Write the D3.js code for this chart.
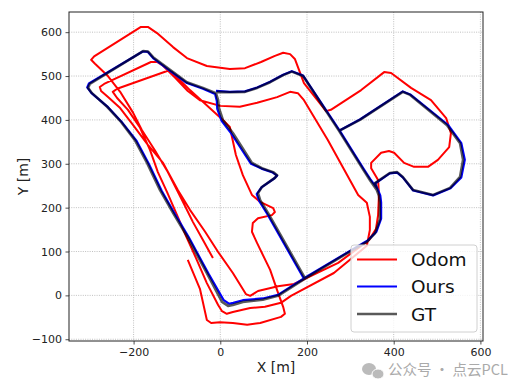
<!DOCTYPE html>
<html><head><meta charset="utf-8">
<script src="https://cdn.jsdelivr.net/npm/d3@7"></script>
<style>
html,body{margin:0;padding:0;background:#fff;}
svg{display:block;font-family:"DejaVu Sans",sans-serif;}
</style></head>
<body><svg id="c" width="522" height="392"></svg>
<script>
const xTicks=[-200,0,200,400,600];
const yTicks=[-100,0,100,200,300,400,500,600];
const seriesNames=["Odom","Ours","GT"];
const seriesColors=["#ff0000","#0000ff","#000000"];

// GT trajectory (m); null separates pieces
const gtX=[195,110,92,87,96,126,131,122,96,73,50,29,6,-3,-5,-10,-40,-77,-116,-155,-167,-178,-301,-305,-296,-261,-231,-197,-169,-139,-109,-77,-31,4,18,29,52,98,133,198,301,338,357,368,368,366,361,345,330,274,191,165,145,115,85,57,22,-8,
 null,274,322,421,438,523,553,560,553,530,491,445,421,408,391,357,366];
const gtY=[40,188,217,233,247,268,274,281,290,302,338,370,400,427,445,461,473,486,514,543,556,557,482,473,461,430,398,354,302,240,188,135,51,-15,-24,-22,-15,-10,-1,40,101,122,142,173,211,227,240,263,286,375,500,510,502,486,473,464,463,464,
 null,375,400,464,457,388,347,309,270,245,229,240,270,281,279,256,227];
// Ours (proposed) trajectory
const oursX=[193,108,90,84,95,125,131,121,95,71,47,26,3,-7,-8,-12,-40,-77,-116,-155,-167,-179,-303,-307,-297,-259,-228,-193,-165,-135,-105,-73,-27,8,20,30,52,98,133,198,302,340,360,371,371,369,363,346,331,275,191,165,145,115,85,57,22,-10,
 null,275,322,421,438,525,556,564,556,531,491,445,421,408,391,357,369];
const oursY=[38,186,215,231,246,267,273,280,289,300,336,368,398,425,443,459,471,484,512,541,555,556,483,474,461,429,396,352,300,238,186,133,49,-11,-19,-17,-11,-7,1,42,103,125,145,175,212,228,242,265,288,376,501,511,503,487,474,465,464,466,
 null,376,401,465,458,389,347,309,269,244,228,239,269,280,278,255,228];
// Odometry trajectory
const odomX=[-17,-40,-63,-88,-121,-151,-181,-201,-231,-261,-289,-298,-291,
 -183,-167,-146,-109,-77,-31,22,57,94,126,145,161,172,193,244,255,325,378,394,440,486,521,532,528,502,479,447,424,401,389,371,348,348,364,366,364,359,343,272,170,133,87,69,59,
 29,-5,-35,-70,-98,-132,-167,-201,-231,-259,-275,-278,-268,
 -160,-146,-134,-104,-75,-47,0,45,85,131,161,179,193,248,318,338,345,345,338,262,163,140,103,69,29,15,4,
 -5,-31,-56,-79,-102,-123,-144,-162,-185,-213,-238,-248,-238,
 -121,-111,-70,6,22,27,36,52,73,92,122,126,119,87,75,73,85,115,131,145,149,140,92,62,29,-1,-21,-31,-47,-75];
const odomY=[85,126,167,217,281,331,377,416,464,502,528,537,545,
 612,612,598,566,541,523,516,518,532,546,553,550,539,484,420,423,468,509,507,473,445,404,370,338,309,293,293,302,325,329,325,302,290,263,229,183,151,126,74,26,21,10,-1,3,
 51,99,145,195,240,302,343,388,427,452,466,475,482,
 532,532,525,496,466,445,432,430,439,452,464,461,445,354,229,211,179,149,113,51,-1,-17,-26,-29,-38,-42,-36,
 -22,28,85,135,188,236,281,331,382,423,450,464,471,
 512,509,468,400,384,361,320,274,229,213,199,190,183,176,165,145,119,58,12,-26,-42,-49,-63,-67,-63,-61,-63,-56,15,81];

const W=522,H=392;
const m={l:69,r:483,t:12,b:341};
const svg=d3.select("#c");
const x=d3.scaleLinear().domain([-349,606]).range([m.l,m.r]);
const y=d3.scaleLinear().domain([-104,646]).range([m.b,m.t]);

svg.append("rect").attr("x",0).attr("y",0).attr("width",W).attr("height",H).attr("fill","#fff");
svg.append("clipPath").attr("id","cp").append("rect")
 .attr("x",m.l).attr("y",m.t).attr("width",m.r-m.l).attr("height",m.b-m.t);

// grid
const g=svg.append("g");
g.selectAll(".gx").data(xTicks).join("line")
 .attr("x1",d=>x(d)).attr("x2",d=>x(d)).attr("y1",m.t).attr("y2",m.b)
 .attr("stroke","#b0b0b0").attr("stroke-width",0.8).attr("stroke-dasharray","1,1.3");
g.selectAll(".gy").data(yTicks).join("line")
 .attr("y1",d=>y(d)).attr("y2",d=>y(d)).attr("x1",m.l).attr("x2",m.r)
 .attr("stroke","#b0b0b0").attr("stroke-width",0.8).attr("stroke-dasharray","1,1.3");

function pts(X,Y){return X.map((v,i)=>[v,Y[i]]);}
const line=d3.line().defined(d=>d[0]!==null&&d[1]!==null).x(d=>x(d[0])).y(d=>y(d[1])).curve(d3.curveLinear);
const plot=svg.append("g").attr("clip-path","url(#cp)");
plot.append("path").attr("d",line(pts(odomX,odomY))).attr("fill","none").attr("stroke",seriesColors[0]).attr("stroke-width",2).attr("stroke-linejoin","round");
plot.append("path").attr("d",line(pts(oursX,oursY))).attr("fill","none").attr("stroke",seriesColors[1]).attr("stroke-width",2.2).attr("stroke-linejoin","round");
plot.append("path").attr("d",line(pts(gtX,gtY))).attr("fill","none").attr("stroke",seriesColors[2]).attr("stroke-opacity",0.65).attr("stroke-width",2.6).attr("stroke-linejoin","round");

// axes
const fmt=d=>d<0?"\u2212"+Math.abs(d):d;
const ax=svg.append("g").attr("transform",`translate(0,${m.b})`).call(d3.axisBottom(x).tickValues(xTicks).tickSize(3.5).tickPadding(3.5).tickFormat(fmt));
const ay=svg.append("g").attr("transform",`translate(${m.l},0)`).call(d3.axisLeft(y).tickValues(yTicks).tickSize(3.5).tickPadding(3.5).tickFormat(fmt));
[ax,ay].forEach(a=>{a.select(".domain").remove();a.selectAll("text").attr("font-size",11).attr("fill","#222").attr("font-family","DejaVu Sans");a.selectAll("line").attr("stroke","#222").attr("stroke-width",0.8);});
svg.append("rect").attr("x",m.l).attr("y",m.t).attr("width",m.r-m.l).attr("height",m.b-m.t).attr("fill","none").attr("stroke","#222").attr("stroke-width",1);

svg.append("text").attr("x",(m.l+m.r)/2).attr("y",372).attr("text-anchor","middle").attr("font-size",14).attr("fill","#222").text("X [m]");
svg.append("text").attr("transform",`translate(28,${(m.t+m.b)/2}) rotate(-90)`).attr("text-anchor","middle").attr("font-size",14).attr("fill","#222").text("Y [m]");

// legend
const lg=svg.append("g");
lg.append("rect").attr("x",351).attr("y",245).attr("width",126).attr("height",87).attr("rx",3).attr("fill","#fff").attr("fill-opacity",0.8).attr("stroke","#d0d0d0");
const lgY=[259.5,286.5,314];
seriesNames.forEach((n,i)=>{
 lg.append("line").attr("x1",357).attr("x2",397).attr("y1",lgY[i]).attr("y2",lgY[i]).attr("stroke",seriesColors[i]).attr("stroke-width",i==2?2.6:2.2).attr("stroke-opacity",i==2?0.65:1);
 lg.append("text").attr("x",411).attr("y",lgY[i]+6.5).attr("font-size",18.5).attr("fill","#111").text(n);
});

// watermark
const wm=svg.append("g");
wm.append("ellipse").attr("cx",369).attr("cy",369).attr("rx",7).attr("ry",6).attr("fill","#bbb");
wm.append("ellipse").attr("cx",378).attr("cy",374).attr("rx",6).attr("ry",5).attr("fill","#bbb").attr("stroke","#fff").attr("stroke-width",1);
wm.append("text").attr("x",388).attr("y",375).attr("font-size",14.5).attr("fill","#aaa").attr("font-family","Noto Sans CJK SC, sans-serif").text("公众号 · 点云PCL");
</script></body></html>
